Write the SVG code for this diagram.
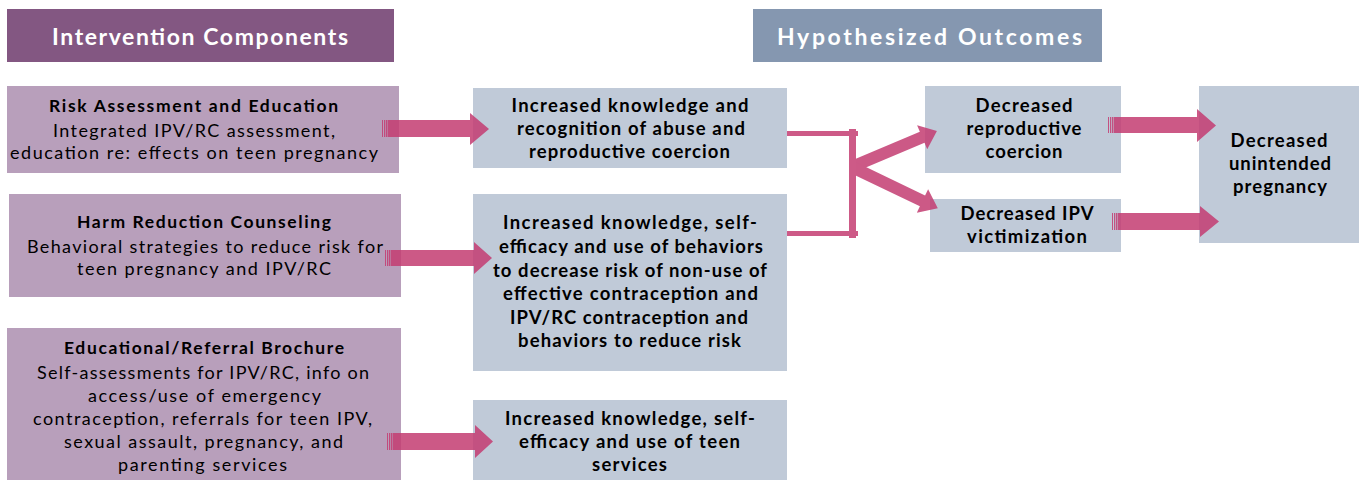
<svg xmlns="http://www.w3.org/2000/svg" width="1359" height="480" viewBox="0 0 1359 480">
<style>
.hdr1{fill:#835782}
.hdr2{fill:#8597b0}
.comp{fill:#b89fbb}
.out{fill:#c0cad8}
.ht{font-family:Lato,"Open Sans",sans-serif;font-weight:bold;font-size:23px;fill:#fff;text-anchor:middle}
.b{font-family:Lato,"Open Sans",sans-serif;font-weight:bold;font-size:18.5px;fill:#000;text-anchor:middle}
.bl{font-family:Lato,"Open Sans",sans-serif;font-weight:bold;font-size:17.5px;fill:#000;text-anchor:middle}
.r{font-family:Lato,"Open Sans",sans-serif;font-size:18px;fill:#000;text-anchor:middle}
.arr{fill:#c43d72;opacity:0.85}
.ln{fill:#cd5a87}
</style>
<rect width="1359" height="480" fill="#fff"/>
<g id="header-intervention">
<rect class="hdr1" x="7" y="9" width="387" height="53"/>
<text class="ht" x="200" y="45" textLength="296">Intervention Components</text>
</g>
<g id="header-outcomes">
<rect class="hdr2" x="753" y="9" width="349" height="53"/>
<text class="ht" x="929.5" y="45" textLength="305">Hypothesized Outcomes</text>
</g>
<g id="risk-assessment">
<rect class="comp" x="7" y="86" width="392" height="87"/>
<text class="bl" x="193.5" y="112" textLength="289">Risk Assessment and Education</text>
<text class="r" x="194" y="137" textLength="282">Integrated IPV/RC assessment,</text>
<text class="r" x="194" y="158.5" textLength="368">education re: effects on teen pregnancy</text>
</g>
<g id="harm-reduction">
<rect class="comp" x="9" y="194" width="392" height="103"/>
<text class="bl" x="204" y="228" textLength="254">Harm Reduction Counseling</text>
<text class="r" x="205" y="253" textLength="356">Behavioral strategies to reduce risk for</text>
<text class="r" x="204" y="275" textLength="254">teen pregnancy and IPV/RC</text>
</g>
<g id="brochure">
<rect class="comp" x="7" y="328" width="394" height="152"/>
<text class="bl" x="204" y="354" textLength="280">Educational/Referral Brochure</text>
<text class="r" x="203" y="379" textLength="332">Self-assessments for IPV/RC, info on</text>
<text class="r" x="204.5" y="402" textLength="233">access/use of emergency</text>
<text class="r" x="202.5" y="425" textLength="339">contraception, referrals for teen IPV,</text>
<text class="r" x="203.5" y="448" textLength="279">sexual assault, pregnancy, and</text>
<text class="r" x="202.5" y="471" textLength="169">parenting services</text>
</g>
<g id="knowledge-abuse">
<rect class="out" x="473" y="88" width="314" height="80"/>
<text class="b" x="630" y="112" textLength="237">Increased knowledge and</text>
<text class="b" x="631" y="135" textLength="228">recognition of abuse and</text>
<text class="b" x="629.5" y="157.5" textLength="201">reproductive coercion</text>
</g>
<g id="knowledge-behaviors">
<rect class="out" x="473" y="194" width="314" height="177"/>
<text class="b" x="630" y="229" textLength="254">Increased knowledge, self-</text>
<text class="b" x="631" y="253" textLength="264">efficacy and use of behaviors</text>
<text class="b" x="630" y="277" textLength="274">to decrease risk of non-use of</text>
<text class="b" x="630.5" y="300" textLength="255">effective contraception  and</text>
<text class="b" x="629" y="323.5" textLength="238">IPV/RC contraception and</text>
<text class="b" x="629.5" y="347" textLength="223">behaviors to reduce risk</text>
</g>
<g id="knowledge-services">
<rect class="out" x="473" y="400" width="314" height="80"/>
<text class="b" x="630" y="425" textLength="250">Increased knowledge, self-</text>
<text class="b" x="629.5" y="448" textLength="221">efficacy and use of teen</text>
<text class="b" x="629.5" y="471" textLength="75">services</text>
</g>
<g id="decreased-rc">
<rect class="out" x="925" y="86" width="196" height="87"/>
<text class="b" x="1024" y="112" textLength="97">Decreased</text>
<text class="b" x="1024" y="135" textLength="115">reproductive</text>
<text class="b" x="1024" y="157.5" textLength="77">coercion</text>
</g>
<g id="decreased-ipv">
<rect class="out" x="930" y="199" width="191" height="53"/>
<text class="b" x="1027" y="220" textLength="133">Decreased IPV</text>
<text class="b" x="1027" y="242.5" textLength="120">victimization</text>
</g>
<g id="decreased-pregnancy">
<rect class="out" x="1199" y="86" width="160" height="157"/>
<text class="b" x="1279" y="147" textLength="97">Decreased</text>
<text class="b" x="1280" y="170" textLength="102">unintended</text>
<text class="b" x="1280" y="192.5" textLength="94">pregnancy</text>
</g>
<g id="connectors">
<g class="arr">
<rect x="382" y="120" width="1" height="17"/><rect x="384" y="120" width="1.3" height="17"/><rect x="386" y="120" width="1.5" height="17"/>
<polygon points="388,120 470,120 470,113 489,129 470,145 470,137 388,137"/>
<rect x="385" y="250" width="1" height="16"/><rect x="387" y="250" width="1.3" height="16"/><rect x="389" y="250" width="1.5" height="16"/>
<polygon points="391,250 474,250 474,242 492,258 474,274 474,266 391,266"/>
<rect x="387" y="433" width="1" height="17"/><rect x="389" y="433" width="1.3" height="17"/><rect x="391" y="433" width="1.5" height="17"/>
<polygon points="393,433 475,433 475,425 493,441.5 475,458 475,450 393,450"/>
<rect x="1108" y="117" width="1" height="16"/><rect x="1110" y="117" width="1.3" height="16"/><rect x="1112" y="117" width="1.5" height="16"/>
<polygon points="1114,117 1197,117 1197,109 1216,125.5 1197,142 1197,133 1114,133"/>
<rect x="1112" y="213" width="1" height="17"/><rect x="1114" y="213" width="1.3" height="17"/><rect x="1116" y="213" width="1.5" height="17"/>
<polygon points="1118,213 1200,213 1200,206 1219,221.5 1200,237 1200,230 1118,230"/>
<polygon transform="translate(854,166) rotate(-22.9)" points="0,-6 74,-6 74,-13 90,0 74,13 74,6 0,6"/>
<polygon transform="translate(854,168) rotate(25.7)" points="0,-6 76,-6 76,-13 93,0 76,13 76,6 0,6"/>
</g>
<rect class="ln" x="787" y="131" width="71" height="5"/>
<rect class="ln" x="787" y="231" width="71" height="5"/>
<rect class="ln" x="849" y="129" width="7" height="109"/>
</g>
</svg>
